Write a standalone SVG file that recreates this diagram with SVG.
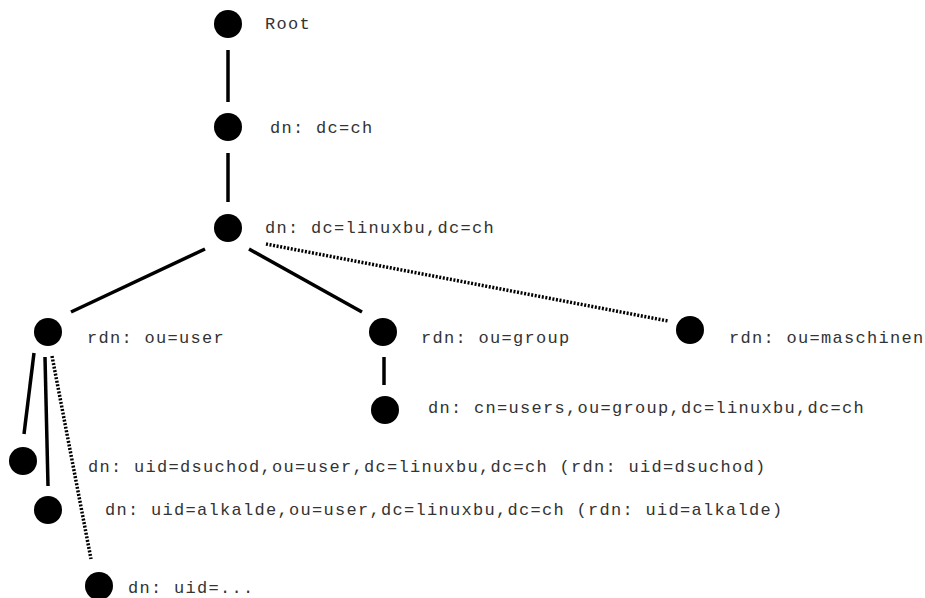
<svg xmlns="http://www.w3.org/2000/svg" width="925" height="598" viewBox="0 0 925 598">
<style>
.n{fill:#000}
.t{font-family:"Liberation Mono","Courier New",monospace;font-size:17px;letter-spacing:1.3px;fill:#333}
.e{stroke:#000;stroke-width:3.5;fill:none}
.d{stroke:#000;stroke-width:3.5;stroke-dasharray:2 1.6;fill:none}
</style>
<rect width="925" height="598" fill="#fff"/>
<g id="edges">
<line class="e" x1="228" y1="50" x2="228" y2="102"/>
<line class="e" x1="228" y1="153" x2="228" y2="202"/>
<line class="e" x1="205" y1="249" x2="71" y2="312"/>
<line class="e" x1="249" y1="249" x2="362" y2="312"/>
<line class="d" x1="266" y1="244" x2="668" y2="321"/>
<line class="e" x1="384" y1="357" x2="384" y2="385"/>
<line class="e" x1="34" y1="353" x2="24" y2="434"/>
<line class="e" x1="45" y1="357" x2="48" y2="486"/>
<line class="d" x1="52" y1="356" x2="91" y2="559"/>
</g>
<g id="root"><circle class="n" cx="228" cy="24" r="14"/><text class="t" x="265" y="29">Root</text></g>
<g id="dc-ch"><circle class="n" cx="228" cy="127" r="14"/><text class="t" x="270" y="133">dn: dc=ch</text></g>
<g id="linuxbu"><circle class="n" cx="228" cy="228" r="14"/><text class="t" x="265" y="233">dn: dc=linuxbu,dc=ch</text></g>
<g id="ou-user"><circle class="n" cx="48" cy="332" r="14"/><text class="t" x="87" y="343">rdn: ou=user</text></g>
<g id="ou-group"><circle class="n" cx="383" cy="332" r="14"/><text class="t" x="421" y="343">rdn: ou=group</text></g>
<g id="ou-maschinen"><circle class="n" cx="690" cy="330" r="14"/><text class="t" x="729" y="343">rdn: ou=maschinen</text></g>
<g id="cn-users"><circle class="n" cx="385" cy="410" r="14"/><text class="t" x="428" y="413">dn: cn=users,ou=group,dc=linuxbu,dc=ch</text></g>
<g id="dsuchod"><circle class="n" cx="23" cy="461" r="14"/><text class="t" x="88" y="472">dn: uid=dsuchod,ou=user,dc=linuxbu,dc=ch (rdn: uid=dsuchod)</text></g>
<g id="alkalde"><circle class="n" cx="48" cy="510" r="14"/><text class="t" x="105" y="515">dn: uid=alkalde,ou=user,dc=linuxbu,dc=ch (rdn: uid=alkalde)</text></g>
<g id="uid-more"><circle class="n" cx="99" cy="586" r="14"/><text class="t" x="128" y="593">dn: uid=...</text></g>
</svg>
